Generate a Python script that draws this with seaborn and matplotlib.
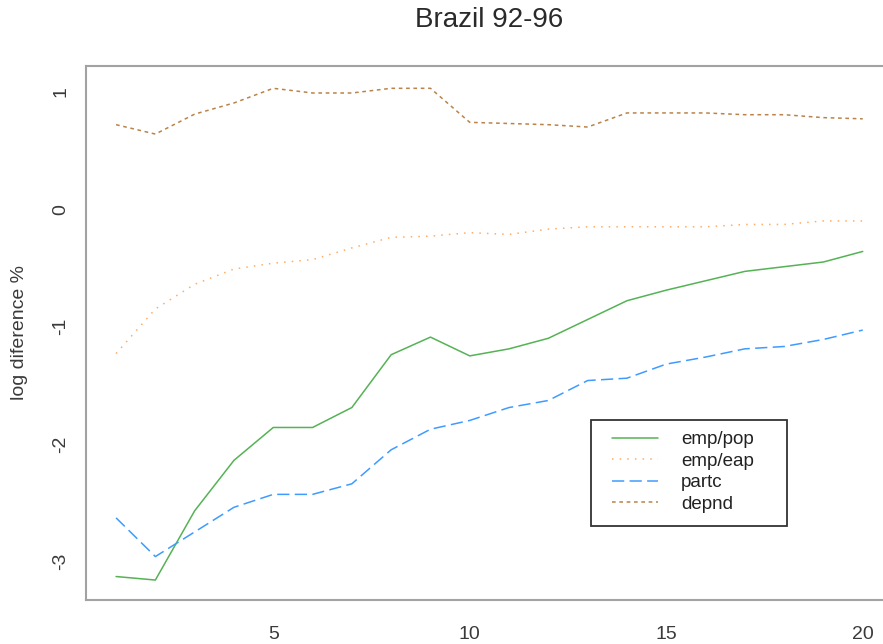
import numpy as np
import pandas as pd
import matplotlib
matplotlib.use("Agg")
import matplotlib.pyplot as plt
from matplotlib.lines import Line2D
from matplotlib.patches import Rectangle
import seaborn as sns

# Years since migration (1..20)
years = list(range(1, 21))

emp_pop = [-3.13, -3.16, -2.57, -2.14, -1.86, -1.86, -1.69, -1.24, -1.09, -1.25,
           -1.19, -1.10, -0.94, -0.78, -0.69, -0.61, -0.53, -0.49, -0.45, -0.36]
emp_eap = [-1.23, -0.85, -0.64, -0.51, -0.46, -0.43, -0.33, -0.24, -0.23, -0.20,
           -0.215, -0.17, -0.15, -0.15, -0.15, -0.15, -0.13, -0.13, -0.10, -0.10]
partc = [-2.63, -2.96, -2.75, -2.54, -2.43, -2.43, -2.34, -2.05, -1.875, -1.80,
         -1.69, -1.63, -1.46, -1.44, -1.32, -1.26, -1.19, -1.17, -1.11, -1.03]
depend = [0.72, 0.64, 0.81, 0.905, 1.03, 0.99, 0.99, 1.03, 1.03, 0.74,
          0.73, 0.72, 0.70, 0.82, 0.82, 0.82, 0.805, 0.805, 0.78, 0.77]

series_names = ["emp/pop", "emp/eap", "partc", "depnd"]
x_ticks = [5, 10, 15, 20]
y_ticks = [-3, -2, -1, 0, 1]

palette = {"emp/pop": "#55b255", "emp/eap": "#ffad66",
           "partc": "#3f9bff", "depnd": "#b98349"}
dash_map = {"emp/pop": "", "emp/eap": (1, 4),
            "partc": (8, 3.5), "depnd": (2.4, 2.4)}

df = pd.DataFrame({"year": years, "emp/pop": emp_pop, "emp/eap": emp_eap,
                   "partc": partc, "depnd": depend})
long_df = df.melt(id_vars="year", var_name="series", value_name="value")

sns.set_style("white")
plt.rcParams["font.family"] = ["Liberation Sans", "DejaVu Sans"]
plt.rcParams["axes.unicode_minus"] = False

W, H = 883, 644
fig = plt.figure(figsize=(W / 100, H / 100), dpi=100)
ax_l, ax_r, ax_t, ax_b = 86.2, 892.6, 66, 600
ax = fig.add_axes([ax_l / W, 1 - ax_b / H, (ax_r - ax_l) / W, (ax_b - ax_t) / H])

sns.lineplot(data=long_df, x="year", y="value", hue="series", style="series",
             hue_order=series_names, style_order=series_names,
             palette=palette, dashes=dash_map, linewidth=1.1,
             legend=False, ax=ax)

ax.set_xlim(0.24, 20.76)
ax.set_ylim(-3.33, 1.22)
ax.set_xticks(x_ticks)
ax.set_yticks(y_ticks)
ax.set_xlabel("")
ax.set_ylabel("")

frame_col = "#a2a2a2"
for side in ["left", "bottom", "top", "right"]:
    ax.spines[side].set_color(frame_col)
    ax.spines[side].set_linewidth(1.5)

ax.tick_params(axis="both", direction="out", width=1.2,
               color=frame_col, labelsize=14, labelcolor="#3a3a3a")
ax.tick_params(axis="x", length=7, pad=12)
ax.tick_params(axis="y", length=9, pad=3)
for lab in ax.get_yticklabels():
    lab.set_rotation(90)
    lab.set_va("center")

fig.text(489 / W, 1 - 27 / H, "Brazil 92-96", ha="center", va="baseline",
         fontsize=20, color="#2a2a2a")
fig.text(20 / W, 1 - 333 / H, "log diference %", ha="center", va="center",
         rotation=90, fontsize=14, color="#3a3a3a")

# Legend with a wide box drawn around it
handles = [Line2D([0], [0], color=palette[n], lw=1.1,
                  dashes=dash_map[n] if dash_map[n] else (None, None),
                  linestyle="-" if not dash_map[n] else "--")
           for n in series_names]
leg = ax.legend(handles, series_names, loc="upper left",
                bbox_to_anchor=(611.5 / W, 1 - 431 / H),
                bbox_transform=fig.transFigure, frameon=False,
                fontsize=13.5, handlelength=2.5, handletextpad=1.2,
                labelspacing=0.24, borderpad=0, borderaxespad=0)
for t in leg.get_texts():
    t.set_color("#222222")

fig.patches.append(Rectangle((590.5 / W, 1 - 525.5 / H), (787 - 590.5) / W,
                             (525.5 - 420) / H, transform=fig.transFigure,
                             fill=False, edgecolor="#333333", lw=1.3))

fig.savefig("out.png", dpi=100)
